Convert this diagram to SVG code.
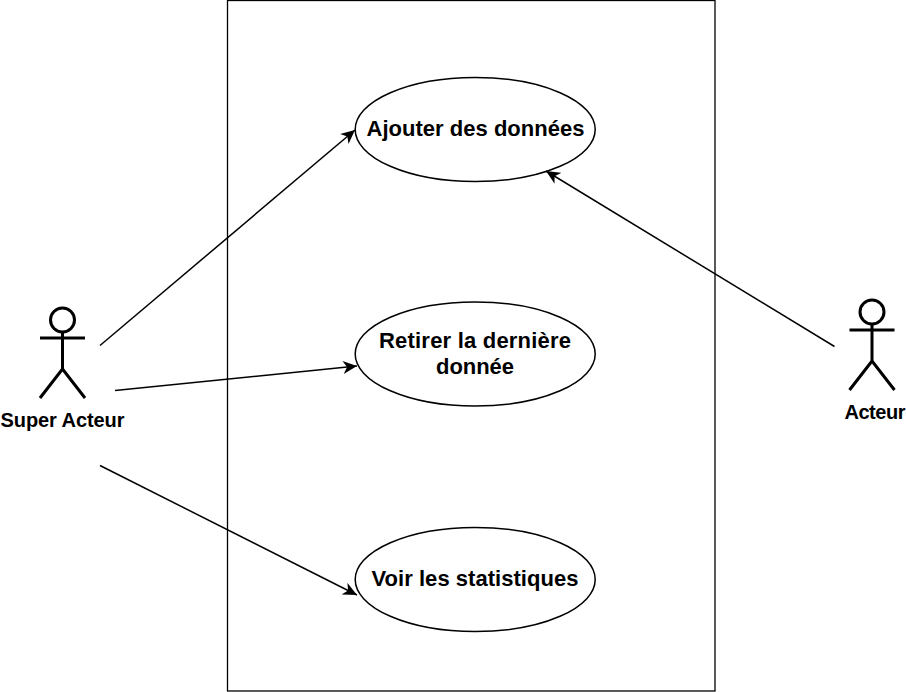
<svg xmlns="http://www.w3.org/2000/svg" width="906" height="692" viewBox="0 0 906 692">
<style>
.box{fill:none;stroke:#000;stroke-width:1.3}
.uc{fill:#fff;stroke:#000;stroke-width:1.5}
.fig{fill:none;stroke:#000;stroke-width:3}
.conn{fill:none;stroke:#000;stroke-width:1.5;marker-end:url(#arr)}
text{font-family:"Liberation Sans",Arial,sans-serif;font-weight:bold;fill:#000;text-anchor:middle}
.ut{font-size:22px}
.at{font-size:20px}
</style>
<defs>
<marker id="arr" markerUnits="userSpaceOnUse" markerWidth="15" markerHeight="14" refX="14" refY="7" orient="auto">
<path d="M0,0.500 L14,7 L0,13.500 L4,7 Z" fill="#000"/>
</marker>
</defs>
<rect width="906" height="692" fill="#fff"/>
<rect id="system" class="box" x="227.500" y="0.500" width="487.500" height="690.500"/>
<g id="uc1"><ellipse class="uc" cx="475.200" cy="129.500" rx="120" ry="52"/><text class="ut" x="475.500" y="136.300" textLength="218">Ajouter des données</text></g>
<g id="uc2"><ellipse class="uc" cx="475.200" cy="354" rx="120" ry="52"/><text class="ut" x="475" y="347.500" textLength="192">Retirer la dernière</text><text class="ut" x="475" y="374" textLength="78">donnée</text></g>
<g id="uc3"><ellipse class="uc" cx="475.200" cy="579.500" rx="120" ry="52"/><text class="ut" x="475" y="585.800" textLength="207">Voir les statistiques</text></g>
<g id="actor1"><circle class="fig" cx="62.500" cy="320" r="12"/><path class="fig" d="M62.500,332V369M40,338H85M40,398L62.500,369L85,398"/><text class="at" x="62.500" y="427" textLength="124">Super Acteur</text></g>
<g id="actor2"><circle class="fig" cx="872" cy="312" r="12"/><path class="fig" d="M872,324V361M849.500,330H894.500M849.500,390L872,361L894.500,390"/><text class="at" x="875" y="419" textLength="61">Acteur</text></g>
<g id="connectors">
<path class="conn" d="M100,345.500L355,130"/>
<path class="conn" d="M115,390.500L357,366"/>
<path class="conn" d="M100,465.500L357,595"/>
<path class="conn" d="M834.500,346.500L546,171"/>
</g>
</svg>
